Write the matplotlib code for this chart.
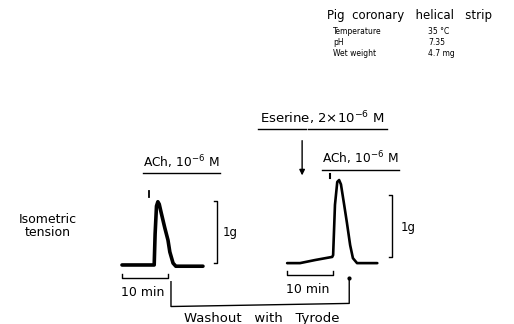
import matplotlib
matplotlib.use("Agg")
import matplotlib.pyplot as plt

# trazo 1: ACh 10^-6 M (tiempo en min, tension en g sobre la linea base)
t1 = [0.0, 7.0, 7.2, 7.5, 7.8, 8.1, 8.5, 9.3, 10.0, 10.4, 11.1, 11.7, 17.6]
g1 = [0.0, 0.0, 0.5, 0.95, 1.02, 0.98, 0.85, 0.6, 0.40, 0.21, 0.03, -0.02, -0.02]

# trazo 2: ACh 10^-6 M tras eserina 2x10^-6 M
t2 = [0.0, 2.8, 6.1, 9.8, 10.0, 10.4, 10.9, 11.3, 11.7, 12.4, 13.0, 13.7, 14.3, 15.2, 19.6]
g2 = [0.0, 0.0, 0.05, 0.10, 0.13, 0.94, 1.31, 1.34, 1.27, 0.94, 0.65, 0.29, 0.08, 0.0, 0.0]

off2 = 35.9    # desplazamiento horizontal del segundo trazo (min)
base2 = 0.03   # desplazamiento de la linea base del segundo trazo (g)

ach1_t = 5.9   # inyeccion ACh, trazo 1
ach2_t = 9.35  # inyeccion ACh, trazo 2
eser_t = 3.26  # eserina, trazo 2

header = "Pig  coronary   helical   strip"
cond_names = ["Temperature", "pH", "Wet weight"]
cond_values = ["35 \u00b0C", "7.35", "4.7 mg"]

fig = plt.figure(figsize=(5.14, 3.24), dpi=100)
ax = fig.add_axes([0, 0, 1, 1])
ax.set_xlim(-26.52, 85.22)
ax.set_ylim(-0.952, 4.274)
ax.axis("off")

k = "black"
ax.plot(t1, g1, color=k, lw=2.6, solid_capstyle="round", solid_joinstyle="round")
ax.plot([t + off2 for t in t2], [g + base2 for g in g2], color=k, lw=1.9,
        solid_capstyle="round", solid_joinstyle="round")

# barras de escala 1 g
for x0, y0 in [(20.65, 0.03), (off2 + 22.8, base2 + 0.1)]:
    ax.plot([x0 - 0.6, x0, x0, x0 - 0.6], [y0, y0, y0 + 1.0, y0 + 1.0], color=k, lw=1.0)
ax.text(21.9, 0.52, "1g", fontsize=8.5, va="center", ha="left")
ax.text(off2 + 24.6, base2 + 0.58, "1g", fontsize=8.5, va="center", ha="left")

# barras de 10 min
for x0, y0 in [(0.0, -0.21), (off2, base2 - 0.19)]:
    ax.plot([x0, x0, x0 + 10, x0 + 10], [y0 + 0.06, y0, y0, y0 + 0.06], color=k, lw=1.0)
ax.text(-0.3, -0.45, "10 min", fontsize=9, va="center", ha="left")
ax.text(off2 - 0.3, base2 - 0.43, "10 min", fontsize=9, va="center", ha="left")

# marcas de inyeccion
ax.plot([ach1_t, ach1_t], [1.1, 1.2], color=k, lw=1.3)
ax.plot([off2 + ach2_t, off2 + ach2_t], [base2 + 1.38, base2 + 1.43], color=k, lw=1.5)

# etiquetas ACh
ax.text(12.9, 1.52, "ACh, 10$^{-6}$ M", fontsize=8.8, ha="center", va="bottom")
ax.plot([4.6, 21.3], [1.48, 1.48], color=k, lw=1.0)
ax.text(off2 + 16.0, base2 + 1.55, "ACh, 10$^{-6}$ M", fontsize=8.8, ha="center", va="bottom")
ax.plot([off2 + 7.6, off2 + 24.3], [base2 + 1.5, base2 + 1.5], color=k, lw=1.0)

# eserina
ax.text(off2 + 7.6, base2 + 2.2, "Eserine, 2\u00d710$^{-6}$ M", fontsize=9.5, ha="center", va="bottom")
ax.plot([off2 - 6.3, off2 + 4.0], [base2 + 2.16, base2 + 2.16], color=k, lw=1.0)
ax.plot([off2 + 4.6, off2 + 21.7], [base2 + 2.16, base2 + 2.16], color=k, lw=1.0)
ax.annotate("", xy=(off2 + eser_t, base2 + 1.37), xytext=(off2 + eser_t, base2 + 2.02),
            arrowprops=dict(arrowstyle="-|>", color=k, lw=1.0, mutation_scale=8))

# lavado con Tyrode
ax.plot([10.65, 10.65, off2 + 13.5, off2 + 13.5], [-0.27, -0.67, -0.62, -0.22], color=k, lw=1.0)
ax.plot([off2 + 13.5], [-0.21], marker="o", ms=2, color=k)
ax.text(30.4, -0.87, "Washout   with   Tyrode", fontsize=9.5, ha="center", va="center")

ax.text(-16.1, 0.63, "Isometric\ntension", fontsize=9, ha="center", va="center",
        linespacing=1.0)

# cabecera
fig.text(327 / 514, 1 - 15 / 324, header, fontsize=8.5, ha="left", va="center")
for i, (n, v) in enumerate(zip(cond_names, cond_values)):
    yy = 1 - (32 + i * 10.5) / 324
    fig.text(333 / 514, yy, n, fontsize=5.5, ha="left", va="center")
    fig.text(428 / 514, yy, v, fontsize=5.5, ha="left", va="center")

fig.savefig("out.png", dpi=100, facecolor="white")
